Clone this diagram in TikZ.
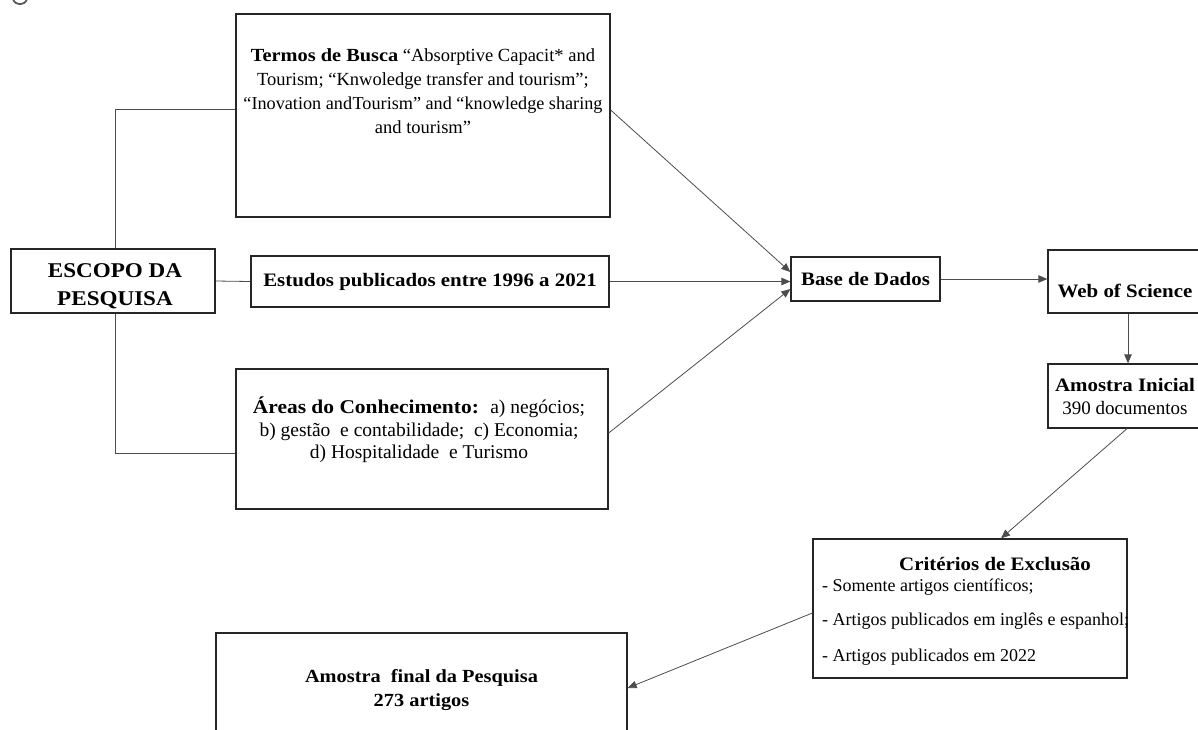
\documentclass[tikz,border=0pt]{standalone}
\usepackage{fontspec}
\setmainfont{Liberation Serif}[BoldFeatures={FakeStretch=1.1}]
\usetikzlibrary{arrows.meta}
\begin{document}
\begin{tikzpicture}[x=1pt,y=-1pt,
  box/.style={draw=black!85, line width=1.3pt, inner sep=0pt},
  txt/.style={inner sep=0pt, align=center, font=\fontsize{19}{23}\selectfont},
  small/.style={inner sep=0pt, align=left, anchor=west, font=\fontsize{18}{20}\selectfont},
  conn/.style={draw=black!70, line width=0.8pt},
  arr/.style={conn, -{Triangle[length=9pt,width=7.5pt]}}]
\useasboundingbox (0,0) rectangle (1198,729);

% fragment at top-left corner
\draw[black!65, line width=1.8pt] (13,-1) .. controls (15,6) and (25,6) .. (27,-1);

% boxes
\node[box, minimum width=374pt, minimum height=203pt] (termos) at (423,115.5) {};
\node[txt, font=\fontsize{18.5}{24}\selectfont] (termosT) at (423,91) {\textbf{Termos de Busca} “Absorptive Capacit* and\\ Tourism; “Knwoledge transfer and tourism”;\\ {\fontsize{18.2}{24}\selectfont “Inovation and\kern0.5pt Tourism” and “knowledge sharing}\\ and tourism”};

\node[box, minimum width=204pt, minimum height=64pt] (escopo) at (113,281) {};
\node[inner sep=0pt, align=center, font=\fontsize{21}{28}\selectfont\bfseries] (escopoT) at (115,286) {ESCOPO DA\\PESQUISA};

\node[box, minimum width=358pt, minimum height=51pt, txt] (estudos) at (430,281.5) {\textbf{Estudos publicados entre 1996 a 2021}};

\node[box, minimum width=372pt, minimum height=140pt] (areas) at (422,439) {};
\node[txt, font=\fontsize{19.5}{22.5}\selectfont] (areasT) at (419,430) {\textbf{Áreas do Conhecimento:} \ a) negócios;\\ b) gestão \ e contabilidade; \ c) Economia;\\ d) Hospitalidade \ e Turismo};

\node[box, minimum width=149pt, minimum height=44pt, txt] (base) at (865.5,279) {\textbf{Base de Dados}};

\node[box, minimum width=154pt, minimum height=63pt] (web) at (1125,281.5) {};
\node[txt] (webT) at (1125,291) {\textbf{Web of Science}};

\node[box, minimum width=154pt, minimum height=64pt, txt] (inicial) at (1125,396) {\textbf{Amostra Inicial}\\ 390 documentos};

\node[box, minimum width=314pt, minimum height=139pt] (criterios) at (970,608.5) {};
\node[txt] (critT) at (995,564) {\textbf{Critérios de Exclusão}};
\node[small] (c1) at (822,587) {- Somente artigos científicos;};
\node[small] (c2) at (822,621) {- Artigos publicados em inglês e espanhol;};
\node[small] (c3) at (822,657) {- Artigos publicados em 2022};

\node[box, minimum width=411pt, minimum height=130pt] (final) at (421.5,698) {};
\node[txt, font=\fontsize{18.5}{24}\selectfont\bfseries] (finalT) at (421.5,690) {Amostra \ final da Pesquisa\\ 273 artigos};

% connectors
\draw[conn] (escopo.north -| 115,0) |- (termos.west |- 0,109);
\draw[conn] (escopo.south -| 115,0) |- (areas.west |- 0,453);
\draw[conn] (escopo.east) -- (estudos.west);
\draw[arr] (termos.east |- 0,110) -- (base.west |- 0,272);
\draw[arr] (estudos.east) -- (base.west |- estudos.east);
\draw[arr] (areas.east |- 0,433) -- (base.west |- 0,289);
\draw[arr] (base.east) -- (web.west |- base.east);
\draw[arr] (web.south -| 1128,0) -- (inicial.north -| 1128,0);
\draw[arr] (inicial.south -| 1127,0) -- (criterios.north -| 1001,0);
\draw[arr] (criterios.west |- 0,613) -- (final.east |- 0,688);
\end{tikzpicture}
\end{document}
